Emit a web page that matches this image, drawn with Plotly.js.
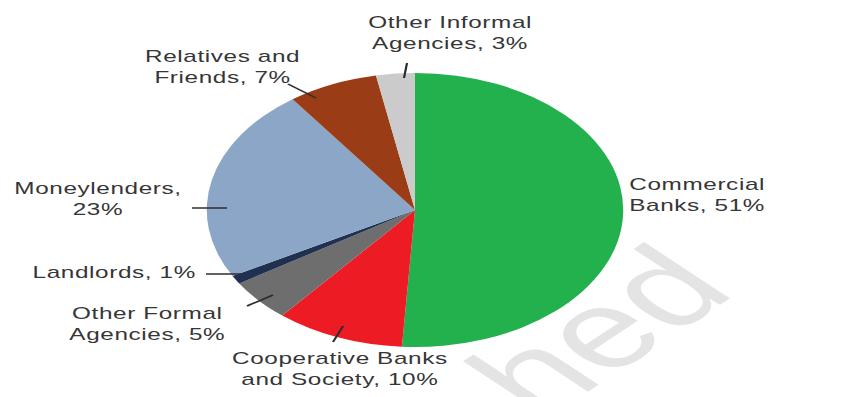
<!DOCTYPE html>
<html>
<head>
<meta charset="utf-8">
<script src="https://cdn.plot.ly/plotly-3.0.1.min.js"></script>
<style>
  html, body { margin: 0; padding: 0; background: #ffffff; overflow: hidden; }
  #wrap { width: 842px; height: 397px; overflow: hidden; position: relative; }
  #chart { width: 554px; height: 397px; transform: scaleX(1.5199); transform-origin: 0 0; }
  #chart .annotation:not([data-index="7"]) .annotation-text { letter-spacing: 0.4px; }
</style>
</head>
<body>
<div id="wrap"><div id="chart"></div></div>
<script>
// ---- data ----
const categories = ['Commercial Banks', 'Cooperative Banks and Society', 'Other Formal Agencies',
                    'Landlords', 'Moneylenders', 'Relatives and Friends', 'Other Informal Agencies'];
const shares = [51, 10, 5, 1, 23, 7, 3];
const sliceColors = ['#22b14c', '#ed1c24', '#6e6e6e', '#1f3050', '#8ca6c8', '#9a3c15', '#cbcbcb'];
// label text templates ({v} = share)
const labelTemplates = ['Commercial<br>Banks, {v}%', 'Cooperative Banks<br>and Society, {v}%',
                        'Other Formal<br>Agencies, {v}%', 'Landlords, {v}%', 'Moneylenders,<br>{v}%',
                        'Relatives and<br>Friends, {v}%', 'Other Informal<br>Agencies, {v}%'];
const watermarkText = 'hed';

// ---- layout helpers (reference pixel positions) ----
const W = 842, H = 397;
const px = x => x / W, py = y => 1 - y / H;
const labelPos = [[697, 195], [339, 369], [148, 324], [114, 272], [98, 199], [222, 67], [450, 33]];
const leaders = [null, [[333, 342], [343, 326]], [[247, 306], [273, 295]], [[206, 274], [242, 274]],
                 [[192, 208], [227, 208]], [[288, 84], [316, 98]], [[407, 63], [404, 78]]];

const cx = 415, cy = 210, r = 137, stretch = 1.5199, innerW = 554;
const dom = {
  x: [(cx / stretch - r) / innerW, (cx / stretch + r) / innerW],
  y: [1 - (cy + r) / H, 1 - (cy - r) / H]
};

const trace = {
  type: 'pie',
  labels: categories,
  values: shares,
  sort: false,
  direction: 'clockwise',
  rotation: 0,
  textinfo: 'none',
  hoverinfo: 'label+percent',
  marker: { colors: sliceColors, line: { width: 0 } },
  domain: dom
};

const annotations = categories.map((c, i) => ({
  xref: 'paper', yref: 'paper',
  x: px(labelPos[i][0]), y: py(labelPos[i][1]),
  xanchor: 'center', yanchor: 'middle',
  text: labelTemplates[i].replace('{v}', shares[i]),
  showarrow: false,
  align: 'center',
  font: { family: 'Liberation Sans, Arial, sans-serif', size: 16, color: '#363636' }
}));
// faint watermark fragment
annotations.push({
  xref: 'paper', yref: 'paper',
  x: px(598), y: py(330), xanchor: 'center', yanchor: 'middle',
  text: watermarkText, showarrow: false, textangle: -45,
  font: { family: 'Liberation Sans, Arial, sans-serif', size: 110, color: '#e4e4e4' }
});

const shapes = [];
leaders.forEach(l => {
  if (!l) return;
  shapes.push({ type: 'line', xref: 'paper', yref: 'paper',
    x0: px(l[0][0]), y0: py(l[0][1]), x1: px(l[1][0]), y1: py(l[1][1]),
    line: { color: '#2e2e2e', width: 1.5 } });
});

const layout = {
  width: innerW, height: H,
  margin: { l: 0, r: 0, t: 0, b: 0 },
  showlegend: false,
  paper_bgcolor: '#ffffff',
  plot_bgcolor: '#ffffff',
  annotations: annotations,
  shapes: shapes
};

Plotly.newPlot('chart', [trace], layout, { displayModeBar: false, staticPlot: true }).then(gd => {
  // put the watermark underneath the pie, as in the reference
  const wm = gd.querySelector('.annotation[data-index="' + categories.length + '"]');
  const pie = gd.querySelector('.pielayer');
  if (wm && pie) pie.parentNode.insertBefore(wm, pie);
});
</script>
</body>
</html>
